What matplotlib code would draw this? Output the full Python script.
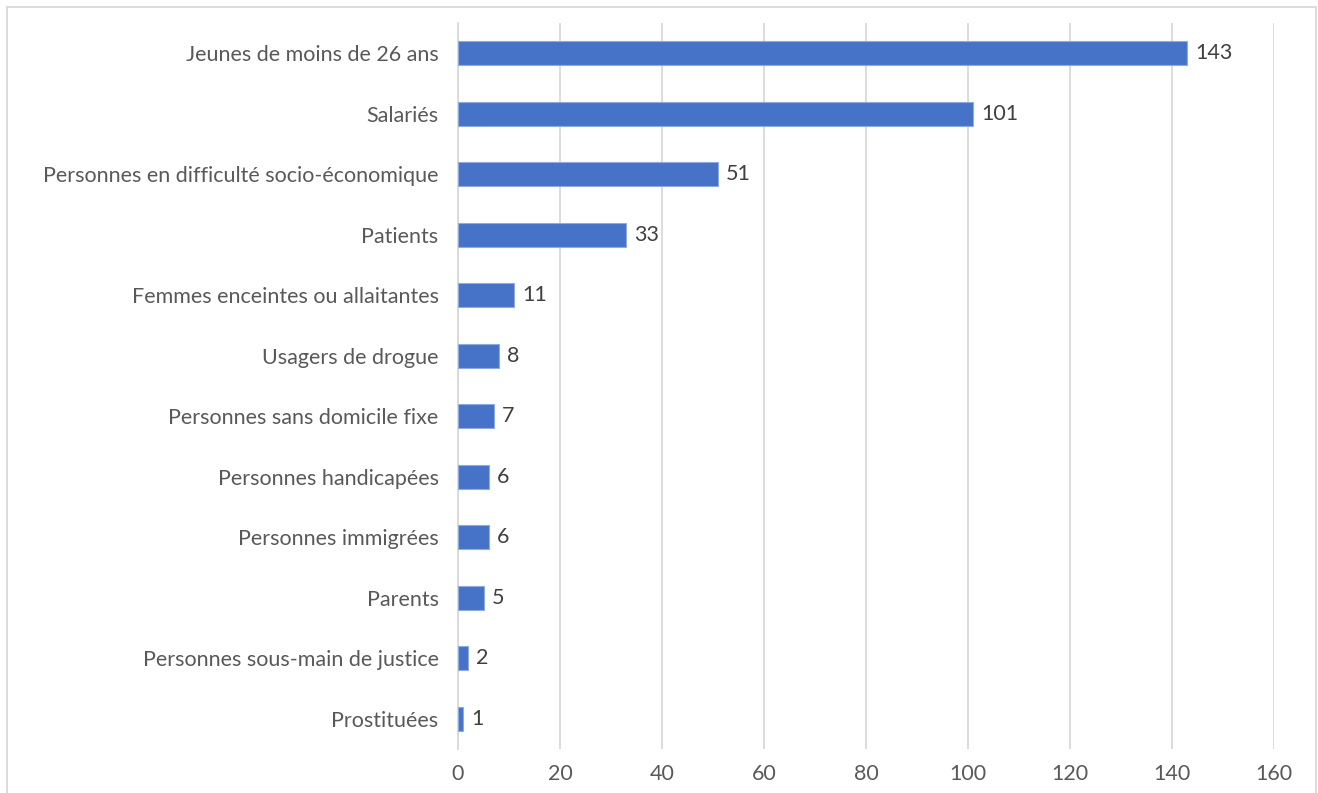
import matplotlib.pyplot as plt
from matplotlib.patches import Rectangle

# === Data ===
categories = [
    'Jeunes de moins de 26 ans', 'Salariés', 'Personnes en difficulté socio-économique',
    'Patients', 'Femmes enceintes ou allaitantes', 'Usagers de drogue',
    'Personnes sans domicile fixe', 'Personnes handicapées', 'Personnes immigrées',
    'Parents', 'Personnes sous-main de justice', 'Prostituées'
]
values = [143, 101, 51, 33, 11, 8, 7, 6, 6, 5, 2, 1]
x_ticks = [0, 20, 40, 60, 80, 100, 120, 140, 160]

plt.rcParams['font.family'] = ['Lato', 'DejaVu Sans']

fig = plt.figure(figsize=(13.18, 7.93), dpi=100)
ax = fig.add_axes([458 / 1318, 1 - 749 / 793, (1274 - 458) / 1318, (749 - 23) / 793])

ypos = list(range(len(categories)))[::-1]
ax.barh(ypos, values, height=0.4, color='#4673c8', edgecolor='#8faadc', linewidth=0.8, zorder=3)

for y, v in zip(ypos, values):
    ax.text(v + 1.6, y, str(v), va='center', ha='left', fontsize=15.5, color='#404040')

ax.set_yticks(ypos)
ax.set_yticklabels(categories, fontsize=15.5, color='#595959')
ax.set_xticks(x_ticks)
ax.set_xticklabels([str(t) for t in x_ticks], fontsize=15.5, color='#595959')
ax.set_xlim(0, 160)
ax.set_ylim(-0.5, len(categories) - 0.5)

ax.xaxis.grid(True, color='#d9d9d9', linewidth=1.3, zorder=0)
ax.tick_params(axis='both', length=0)
ax.tick_params(axis='y', pad=14)
ax.tick_params(axis='x', pad=11)
for s in ['top', 'right', 'bottom']:
    ax.spines[s].set_visible(False)
ax.spines['left'].set_color('#d9d9d9')
ax.spines['left'].set_linewidth(1.3)

# outer chart border (bottom edge cut off in the original)
fig.patches.append(Rectangle((7 / 1318, -0.05), 1309 / 1318, 1.05 - 7 / 793, transform=fig.transFigure,
                             fill=False, edgecolor='#d9d9d9', linewidth=1.3))

fig.savefig('out.png', dpi=100)
